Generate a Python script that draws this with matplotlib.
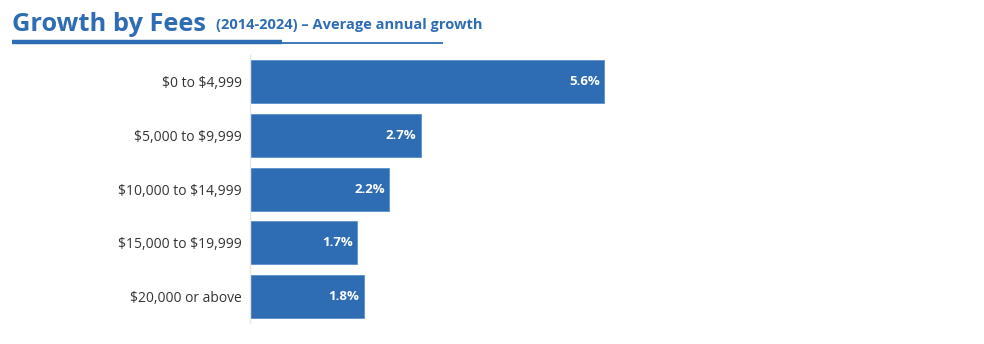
import matplotlib.pyplot as plt
from matplotlib.lines import Line2D

categories = ["$0 to $4,999", "$5,000 to $9,999", "$10,000 to $14,999",
              "$15,000 to $19,999", "$20,000 or above"]
growth = [5.6, 2.7, 2.2, 1.7, 1.8]
value_labels = ["5.6%", "2.7%", "2.2%", "1.7%", "1.8%"]

title = "Growth by Fees"
subtitle = "(2014-2024) \u2013 Average annual growth"

blue = "#2E6DB4"

plt.rcParams["font.family"] = ["Open Sans", "DejaVu Sans"]
plt.rcParams["text.parse_math"] = False

fig = plt.figure(figsize=(9.84, 3.44), dpi=100)
ax = fig.add_axes([250 / 984, 0.06, 695 / 984, 0.781])

y = list(range(len(categories)))
ax.barh(y, growth, height=0.8, color=blue, edgecolor="#5B8FCB", linewidth=0.6)
ax.set_ylim(len(categories) - 0.5, -0.5)
ax.set_xlim(0, 11)
ax.set_yticks(y)
ax.set_yticklabels(categories, fontsize=10, color="#333333")
ax.set_xticks([])
ax.tick_params(axis="y", length=0, pad=6)
for s in ["top", "right", "bottom"]:
    ax.spines[s].set_visible(False)
ax.spines["left"].set_color("#E6E6E6")
ax.spines["left"].set_linewidth(1)

for yi, v, lab in zip(y, growth, value_labels):
    ax.annotate(lab, xy=(v, yi), xytext=(-3, 0), textcoords="offset points",
                ha="right", va="center", color="white", fontsize=9.5,
                fontweight="bold")

# title block
fig.text(12 / 984, 1 - 31 / 344, title, fontsize=18.3, fontweight="bold",
         color=blue, ha="left", va="baseline")
fig.text(216 / 984, 1 - 29 / 344, subtitle, fontsize=10.5, fontweight="bold",
         color=blue, ha="left", va="baseline")
fig.add_artist(Line2D([12 / 984, 282 / 984], [1 - 41.5 / 344] * 2,
                      color=blue, linewidth=3.2, solid_capstyle="butt"))
fig.add_artist(Line2D([282 / 984, 443 / 984], [1 - 43 / 344] * 2,
                      color=blue, linewidth=1.3, solid_capstyle="butt"))

fig.savefig("out.png", dpi=100)
